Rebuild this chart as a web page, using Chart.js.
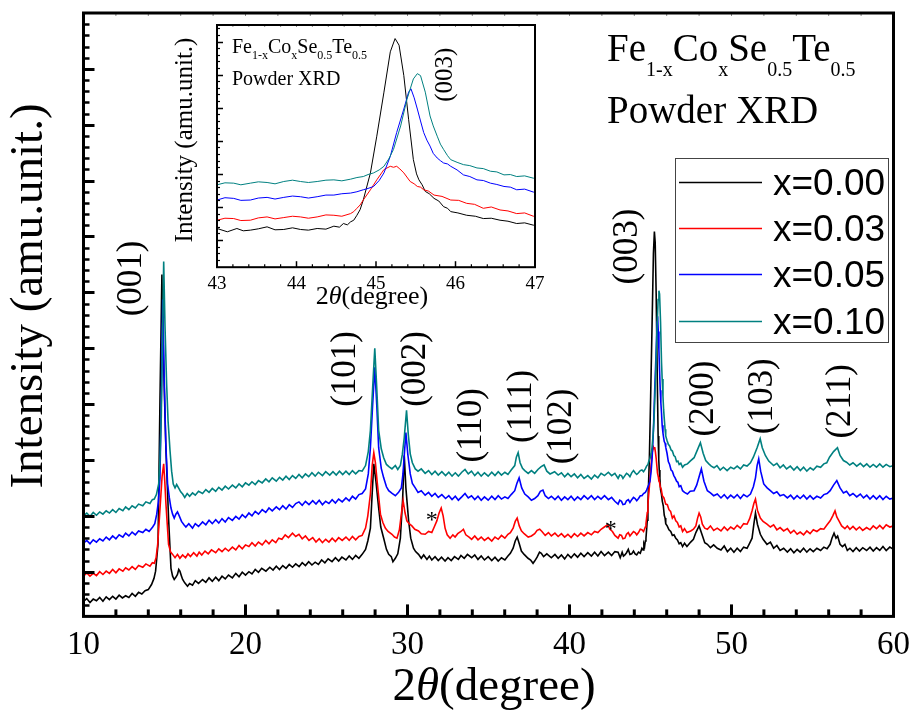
<!DOCTYPE html>
<html><head><meta charset="utf-8">
<script src="https://cdn.jsdelivr.net/npm/chart.js@4"></script>
<style>
html,body{margin:0;padding:0;background:#fff;}
#wrap{position:relative;width:919px;height:714px;overflow:hidden;}
#main{position:absolute;left:0;top:0;}
#inset{position:absolute;left:150px;top:15px;}
</style></head><body>
<div id="wrap"><canvas id="main" width="919" height="714"></canvas><canvas id="inset" width="400" height="310"></canvas></div>
<script>
// ---------- data (2theta in degree, intensity in arbitrary units) ----------
const seriesLabels = ['x=0.00', 'x=0.03', 'x=0.05', 'x=0.10'];
const seriesColors = ['#000000', '#ff0000', '#0000ff', '#008080'];

const xrd000 = [[10.0,47],[10.2,52],[10.4,45],[10.6,51],[10.8,48],[11.0,54],[11.2,47],[11.4,55],[11.6,50],[11.8,56],[12.0,51],[12.2,58],[12.4,53],[12.6,57],[12.8,54],[13.0,61],[13.2,56],[13.4,63],[13.6,60],[13.8,66],[14.0,68],[14.2,77],[14.35,88],[14.45,101],[14.6,149],[14.72,407],[14.84,632],[14.94,480],[15.02,390],[15.09,317],[15.25,196],[15.40,106],[15.5,92],[15.60,86],[15.7,90],[15.80,95],[15.88,104],[15.95,101],[16.05,92],[16.12,86],[16.25,80],[16.42,74],[16.55,79],[16.73,76],[16.9,84],[17.1,79],[17.35,86],[17.55,81],[17.75,89],[17.95,83],[18.16,90],[18.35,84],[18.55,92],[18.75,87],[18.95,94],[19.19,89],[19.4,97],[19.6,91],[19.8,99],[20.0,94],[20.21,100],[20.4,96],[20.6,104],[20.8,99],[21.0,106],[21.26,101],[21.5,108],[21.7,103],[21.9,110],[22.1,104],[22.3,111],[22.5,106],[22.7,113],[22.9,108],[23.1,114],[23.31,109],[23.5,116],[23.7,111],[23.9,118],[24.1,112],[24.3,117],[24.5,113],[24.7,121],[24.9,116],[25.1,123],[25.34,118],[25.55,125],[25.75,119],[25.95,126],[26.2,121],[26.4,128],[26.6,122],[26.8,129],[27.0,124],[27.2,131],[27.41,140],[27.55,155],[27.71,178],[27.82,240],[27.92,293],[28.05,262],[28.22,214],[28.35,180],[28.53,160],[28.7,140],[28.84,131],[29.0,127],[29.1,118],[29.25,124],[29.4,132],[29.56,160],[29.7,230],[29.80,308],[29.9,250],[30.07,191],[30.2,160],[30.37,142],[30.5,136],[30.68,131],[30.85,124],[31.0,130],[31.2,122],[31.35,128],[31.5,121],[31.7,127],[31.9,120],[32.1,126],[32.32,119],[32.5,125],[32.7,120],[32.9,127],[33.14,122],[33.3,129],[33.5,124],[33.7,131],[33.96,125],[34.15,130],[34.35,122],[34.55,128],[34.75,121],[34.98,127],[35.2,120],[35.4,126],[35.6,119],[35.8,125],[36.01,121],[36.2,128],[36.35,133],[36.52,142],[36.65,155],[36.77,162],[36.9,150],[37.03,137],[37.2,131],[37.44,124],[37.6,121],[37.75,115],[37.85,119],[38.0,126],[38.15,135],[38.26,133],[38.4,127],[38.6,132],[38.88,125],[39.1,131],[39.3,124],[39.5,130],[39.7,123],[39.9,131],[40.1,125],[40.3,132],[40.5,126],[40.7,133],[40.9,127],[41.13,134],[41.35,128],[41.55,135],[41.75,128],[41.95,136],[42.16,129],[42.4,135],[42.6,129],[42.8,136],[43.00,135],[43.13,125],[43.25,135],[43.33,128],[43.42,130],[43.52,134],[43.63,140],[43.73,131],[43.84,132],[43.95,137],[44.05,132],[44.15,130],[44.26,135],[44.37,133],[44.47,142],[44.54,139],[44.59,150],[44.64,146],[44.68,155],[44.72,160],[44.76,175],[44.80,192],[44.84,221],[44.93,303],[45.01,414],[45.10,547],[45.18,669],[45.24,709],[45.29,689],[45.35,597],[45.41,465],[45.47,343],[45.51,300],[45.54,282],[45.58,267],[45.62,247],[45.67,240],[45.73,226],[45.79,218],[45.85,201],[45.90,196],[45.94,186],[46.03,182],[46.14,175],[46.25,172],[46.35,165],[46.45,166],[46.56,160],[46.66,157],[46.77,150],[46.87,152],[46.98,145],[47.1,151],[47.25,145],[47.48,153],[47.65,158],[47.8,170],[48.0,182],[48.2,165],[48.35,152],[48.51,149],[48.7,143],[48.9,148],[49.12,142],[49.35,139],[49.55,146],[49.75,136],[49.95,142],[50.15,135],[50.35,142],[50.55,136],[50.75,144],[50.96,142],[51.1,150],[51.27,160],[51.38,185],[51.48,205],[51.6,185],[51.78,167],[51.95,158],[52.19,149],[52.4,153],[52.6,142],[52.8,147],[53.0,138],[53.22,142],[53.45,135],[53.65,141],[53.85,134],[54.05,140],[54.24,135],[54.45,142],[54.65,135],[54.85,141],[55.05,136],[55.27,142],[55.5,138],[55.7,144],[55.9,141],[56.09,149],[56.2,160],[56.33,169],[56.45,160],[56.55,164],[56.70,149],[56.85,145],[57.0,149],[57.15,138],[57.31,142],[57.5,136],[57.7,143],[57.9,137],[58.1,143],[58.34,138],[58.55,144],[58.75,137],[58.95,143],[59.15,138],[59.35,145],[59.55,138],[59.77,144],[60.0,140]];

const xrd003 = [[10.0,92],[10.2,98],[10.4,92],[10.6,97],[10.8,93],[11.0,100],[11.2,95],[11.4,101],[11.6,97],[11.8,104],[12.0,98],[12.2,105],[12.43,101],[12.6,107],[12.8,103],[13.0,109],[13.2,104],[13.4,111],[13.66,108],[13.85,114],[14.1,110],[14.25,116],[14.37,115],[14.48,125],[14.58,149],[14.74,221],[14.85,270],[14.95,293],[15.02,260],[15.09,221],[15.25,149],[15.38,135],[15.5,131],[15.65,125],[15.8,131],[15.95,124],[16.12,130],[16.3,125],[16.45,132],[16.6,127],[16.8,134],[17.0,128],[17.14,135],[17.3,130],[17.5,137],[17.7,132],[17.9,139],[18.16,134],[18.35,141],[18.55,136],[18.75,142],[18.95,137],[19.19,144],[19.4,139],[19.6,147],[19.8,141],[20.0,148],[20.21,145],[20.4,152],[20.6,146],[20.8,153],[21.03,148],[21.25,156],[21.45,150],[21.65,157],[21.87,152],[22.05,160],[22.25,158],[22.45,166],[22.65,161],[22.9,169],[23.1,163],[23.3,167],[23.5,159],[23.7,164],[23.92,156],[24.15,161],[24.35,153],[24.55,159],[24.75,152],[24.95,158],[25.15,153],[25.35,160],[25.55,154],[25.75,161],[25.97,156],[26.2,162],[26.4,156],[26.6,163],[26.8,157],[27.0,163],[27.2,165],[27.41,178],[27.55,200],[27.71,239],[27.82,290],[27.92,313],[28.02,295],[28.12,263],[28.33,203],[28.48,188],[28.63,178],[28.8,172],[29.04,167],[29.2,162],[29.35,160],[29.5,175],[29.62,203],[29.73,227],[29.85,205],[29.96,191],[30.1,186],[30.27,182],[30.45,176],[30.68,173],[30.85,168],[31.09,167],[31.3,172],[31.50,170],[31.65,180],[31.81,191],[31.95,205],[32.08,214],[32.2,200],[32.32,178],[32.45,166],[32.63,160],[32.8,166],[32.94,162],[33.1,168],[33.3,172],[33.45,176],[33.6,166],[33.8,162],[33.96,158],[34.15,164],[34.35,157],[34.55,162],[34.75,156],[34.98,161],[35.2,155],[35.4,162],[35.6,158],[35.8,165],[36.01,160],[36.2,167],[36.35,170],[36.52,178],[36.65,190],[36.77,196],[36.9,182],[37.03,173],[37.2,168],[37.45,162],[37.65,164],[37.85,168],[38.0,174],[38.16,176],[38.3,172],[38.5,165],[38.7,170],[38.88,164],[39.1,169],[39.3,163],[39.5,168],[39.7,162],[39.9,167],[40.1,161],[40.3,168],[40.5,163],[40.7,169],[40.9,164],[41.13,170],[41.35,166],[41.55,172],[41.75,170],[41.95,176],[42.15,180],[42.36,184],[42.5,176],[42.65,172],[42.8,165],[43.00,160],[43.1,166],[43.21,165],[43.3,159],[43.42,160],[43.52,167],[43.63,170],[43.73,164],[43.84,168],[43.95,172],[44.05,170],[44.15,166],[44.26,170],[44.37,176],[44.47,175],[44.57,172],[44.68,180],[44.72,186],[44.76,196],[44.80,206],[44.84,221],[44.93,252],[45.01,282],[45.10,313],[45.18,323],[45.22,320],[45.26,323],[45.30,315],[45.35,303],[45.43,277],[45.48,270],[45.52,262],[45.56,260],[45.60,252],[45.66,248],[45.73,236],[45.83,232],[45.94,221],[46.04,220],[46.14,211],[46.24,208],[46.35,196],[46.45,200],[46.56,191],[46.66,188],[46.77,180],[46.87,182],[46.98,172],[47.1,177],[47.25,170],[47.48,173],[47.65,176],[47.8,182],[47.9,195],[48.0,205],[48.1,198],[48.2,185],[48.35,178],[48.51,176],[48.7,182],[48.9,174],[49.12,178],[49.35,173],[49.55,180],[49.75,174],[49.95,180],[50.15,176],[50.35,183],[50.55,178],[50.75,186],[50.96,185],[51.12,195],[51.27,209],[51.38,222],[51.48,230],[51.6,210],[51.78,196],[51.95,190],[52.19,185],[52.4,180],[52.6,184],[52.8,175],[53.0,179],[53.22,173],[53.45,177],[53.65,169],[53.85,174],[54.05,167],[54.24,171],[54.45,166],[54.65,173],[54.85,168],[55.05,175],[55.27,172],[55.5,177],[55.7,176],[55.9,184],[56.09,191],[56.25,200],[56.39,209],[56.5,198],[56.65,190],[56.80,182],[57.0,177],[57.15,182],[57.31,176],[57.5,181],[57.7,175],[57.9,180],[58.1,174],[58.34,179],[58.55,175],[58.75,182],[58.95,177],[59.15,183],[59.35,177],[59.55,184],[59.77,180],[60.0,182]];

const xrd005 = [[10.0,151],[10.2,156],[10.4,150],[10.6,157],[10.8,153],[11.0,159],[11.2,155],[11.4,162],[11.6,157],[11.8,164],[12.0,159],[12.2,166],[12.43,162],[12.6,169],[12.8,164],[13.0,171],[13.2,166],[13.4,173],[13.66,170],[13.85,176],[14.05,172],[14.27,180],[14.4,186],[14.52,203],[14.62,225],[14.72,268],[14.81,420],[14.89,587],[14.98,450],[15.08,330],[15.19,257],[15.3,232],[15.40,214],[15.50,203],[15.60,196],[15.70,203],[15.80,207],[15.91,200],[16.05,190],[16.2,184],[16.32,180],[16.5,186],[16.73,178],[16.9,186],[17.1,181],[17.35,189],[17.55,184],[17.75,192],[17.95,186],[18.16,193],[18.35,187],[18.55,195],[18.75,189],[18.95,197],[19.19,192],[19.4,199],[19.6,194],[19.8,202],[20.0,197],[20.21,205],[20.4,200],[20.6,208],[20.8,203],[21.03,211],[21.25,206],[21.45,214],[21.65,209],[21.9,216],[22.1,211],[22.3,218],[22.5,212],[22.7,220],[22.9,215],[23.1,222],[23.3,225],[23.5,219],[23.7,226],[23.92,220],[24.15,227],[24.35,221],[24.55,228],[24.75,220],[24.95,226],[25.15,222],[25.35,229],[25.55,223],[25.75,230],[25.97,225],[26.2,232],[26.4,227],[26.6,235],[26.8,230],[27.0,238],[27.2,240],[27.41,248],[27.58,275],[27.71,322],[27.85,400],[27.98,466],[28.1,400],[28.22,322],[28.38,285],[28.53,268],[28.7,252],[28.84,245],[29.05,240],[29.25,236],[29.45,242],[29.62,250],[29.72,275],[29.78,300],[29.90,349],[30.02,310],[30.17,275],[30.3,258],[30.48,250],[30.65,242],[30.85,245],[31.09,237],[31.3,242],[31.5,235],[31.7,240],[31.9,233],[32.12,238],[32.35,231],[32.55,236],[32.75,229],[32.95,235],[33.14,228],[33.35,234],[33.55,240],[33.75,232],[33.95,236],[34.15,229],[34.35,235],[34.55,228],[34.75,234],[34.98,228],[35.2,235],[35.4,229],[35.6,236],[35.8,230],[36.01,234],[36.2,231],[36.4,238],[36.62,245],[36.75,258],[36.89,268],[37.05,250],[37.24,239],[37.45,234],[37.65,228],[37.85,231],[38.05,236],[38.2,244],[38.36,246],[38.5,236],[38.7,231],[38.88,235],[39.1,229],[39.3,235],[39.5,228],[39.7,234],[39.9,229],[40.1,235],[40.3,228],[40.5,234],[40.7,229],[40.9,236],[41.13,230],[41.35,236],[41.55,229],[41.75,235],[41.95,230],[42.16,236],[42.4,229],[42.6,233],[42.8,226],[43.00,221],[43.1,228],[43.21,226],[43.3,220],[43.42,221],[43.52,227],[43.63,229],[43.73,224],[43.84,229],[43.95,233],[44.05,231],[44.15,227],[44.26,231],[44.37,236],[44.47,236],[44.57,240],[44.68,242],[44.76,246],[44.84,252],[44.9,256],[44.97,262],[45.04,280],[45.10,303],[45.18,353],[45.26,425],[45.35,496],[45.41,547],[45.44,557],[45.48,530],[45.52,496],[45.56,460],[45.60,425],[45.64,402],[45.68,384],[45.72,362],[45.77,348],[45.81,340],[45.85,333],[45.90,330],[45.94,323],[46.02,312],[46.10,297],[46.18,292],[46.27,282],[46.35,280],[46.44,272],[46.52,268],[46.61,262],[46.69,260],[46.77,252],[46.87,254],[46.98,245],[47.1,242],[47.28,239],[47.45,244],[47.69,245],[47.85,255],[48.0,270],[48.14,284],[48.3,262],[48.51,245],[48.7,241],[48.9,236],[49.12,239],[49.35,232],[49.55,238],[49.75,231],[49.95,237],[50.15,232],[50.35,238],[50.55,231],[50.75,238],[50.96,234],[51.17,239],[51.35,252],[51.48,268],[51.58,290],[51.68,302],[51.8,280],[51.99,257],[52.2,250],[52.40,245],[52.6,240],[52.8,243],[53.0,236],[53.22,238],[53.45,232],[53.65,237],[53.85,230],[54.05,236],[54.24,231],[54.45,237],[54.65,230],[54.85,236],[55.05,230],[55.27,235],[55.5,232],[55.7,238],[55.9,240],[56.09,245],[56.3,255],[56.50,263],[56.7,250],[56.91,241],[57.1,244],[57.3,236],[57.5,240],[57.73,234],[57.95,239],[58.15,232],[58.35,237],[58.55,230],[58.75,236],[58.95,230],[59.15,236],[59.35,229],[59.55,235],[59.77,230],[60.0,232]];

const xrd010 = [[10.0,200],[10.2,205],[10.4,199],[10.6,206],[10.8,201],[11.0,207],[11.2,203],[11.4,209],[11.6,205],[11.8,211],[12.0,206],[12.2,213],[12.43,209],[12.6,216],[12.8,211],[13.0,218],[13.2,214],[13.4,221],[13.66,218],[13.85,225],[14.1,222],[14.25,229],[14.37,230],[14.5,238],[14.64,257],[14.72,300],[14.80,376],[14.88,520],[14.95,655],[15.03,540],[15.13,437],[15.22,370],[15.34,317],[15.44,280],[15.54,257],[15.65,250],[15.75,256],[15.91,248],[16.0,243],[16.12,239],[16.25,233],[16.4,240],[16.55,235],[16.73,241],[16.9,237],[17.1,244],[17.35,240],[17.55,247],[17.75,242],[17.95,249],[18.16,244],[18.35,251],[18.55,246],[18.75,253],[18.95,248],[19.19,255],[19.4,250],[19.6,257],[19.8,252],[20.0,259],[20.21,255],[20.4,261],[20.6,256],[20.8,263],[21.03,259],[21.25,266],[21.45,261],[21.65,268],[21.9,262],[22.1,269],[22.3,264],[22.5,271],[22.7,265],[22.9,272],[23.1,267],[23.3,274],[23.5,268],[23.7,275],[23.9,270],[24.1,277],[24.3,271],[24.5,278],[24.75,272],[24.95,279],[25.2,273],[25.4,279],[25.6,273],[25.8,280],[26.0,274],[26.2,280],[26.4,274],[26.6,281],[26.8,275],[27.0,281],[27.2,280],[27.41,290],[27.58,315],[27.71,353],[27.85,430],[27.98,500],[28.1,430],[28.22,353],[28.38,320],[28.53,304],[28.7,292],[28.85,288],[29.04,284],[29.25,290],[29.4,283],[29.56,290],[29.68,310],[29.80,340],[29.94,389],[30.05,345],[30.17,311],[30.3,295],[30.48,284],[30.65,280],[30.85,284],[31.09,276],[31.3,281],[31.5,274],[31.7,280],[31.9,273],[32.12,279],[32.35,272],[32.55,278],[32.75,271],[32.95,277],[33.14,271],[33.35,278],[33.55,283],[33.75,275],[33.95,280],[34.15,272],[34.35,278],[34.55,271],[34.75,277],[34.98,271],[35.2,278],[35.4,272],[35.6,279],[35.8,273],[36.01,278],[36.2,274],[36.4,282],[36.62,290],[36.72,305],[36.83,313],[36.95,295],[37.1,285],[37.24,281],[37.45,276],[37.65,281],[37.85,276],[38.05,283],[38.25,288],[38.43,291],[38.6,280],[38.8,275],[39.08,279],[39.3,273],[39.5,277],[39.7,270],[39.9,276],[40.1,270],[40.3,275],[40.5,268],[40.7,274],[40.9,267],[41.13,272],[41.35,266],[41.55,273],[41.75,268],[41.95,276],[42.16,272],[42.4,278],[42.6,272],[42.8,276],[43.00,267],[43.1,273],[43.21,272],[43.3,267],[43.42,272],[43.52,276],[43.63,274],[43.73,270],[43.84,277],[43.95,281],[44.05,277],[44.15,274],[44.26,277],[44.37,281],[44.47,282],[44.57,279],[44.68,284],[44.76,289],[44.84,292],[44.9,298],[44.97,303],[45.04,312],[45.10,323],[45.16,345],[45.22,374],[45.31,445],[45.39,526],[45.47,587],[45.52,603],[45.56,597],[45.62,547],[45.68,475],[45.72,445],[45.77,414],[45.81,390],[45.85,374],[45.90,355],[45.94,343],[46.02,335],[46.10,328],[46.18,325],[46.27,318],[46.35,316],[46.44,308],[46.52,306],[46.61,297],[46.69,298],[46.77,292],[46.87,294],[46.98,287],[47.1,291],[47.28,293],[47.45,298],[47.69,304],[47.85,315],[48.08,331],[48.25,312],[48.41,299],[48.6,293],[48.75,289],[48.92,286],[49.1,290],[49.3,282],[49.5,287],[49.73,281],[49.95,287],[50.15,284],[50.35,289],[50.55,284],[50.75,291],[50.96,289],[51.17,295],[51.35,305],[51.58,322],[51.77,338],[51.9,322],[52.09,308],[52.3,298],[52.60,290],[52.8,294],[53.0,286],[53.2,291],[53.4,284],[53.63,289],[53.85,282],[54.05,288],[54.25,281],[54.45,287],[54.65,280],[54.86,286],[55.05,282],[55.27,289],[55.5,287],[55.7,293],[55.88,295],[56.05,305],[56.3,315],[56.54,322],[56.7,308],[56.91,299],[57.1,296],[57.3,291],[57.5,295],[57.73,289],[57.95,294],[58.15,288],[58.35,293],[58.55,287],[58.75,292],[58.95,287],[59.15,293],[59.35,287],[59.55,292],[59.77,288],[60.0,290]];

const xTicksMain = [10, 20, 30, 40, 50, 60];
const xTicksInset = [43, 44, 45, 46, 47];

// peak indexing labels with their anchor (2theta, intensity)
const peakNames = ['(001)', '(101)', '(002)', '(110)', '(111)', '(102)', '(003)', '(200)', '(103)', '(211)'];
const peakAnchorX = [12.98, 26.20, 30.50, 34.0, 37.07, 39.53, 43.59, 48.32, 51.95, 56.74];
const peakAnchorY = [625, 463, 463, 362, 396, 360, 682, 410, 414, 405];
// impurity markers
const starX = [31.49, 42.54];
const starY = [203, 187];

// ---------- helpers ----------
const SERIF = "'Liberation Serif','Times New Roman',serif";
const SANS = "'Liberation Sans',Arial,sans-serif";
const allSeries = [xrd000, xrd003, xrd005, xrd010];

function makeDatasets(lw) {
  return allSeries.map((s, i) => ({
    label: seriesLabels[i],
    data: s.map(p => ({ x: p[0], y: p[1] })),
    borderColor: seriesColors[i],
    backgroundColor: seriesColors[i],
    borderWidth: lw,
    pointRadius: 0,
    tension: 0,
    fill: false,
    order: 4 - i
  }));
}

function rich(ctx, parts, x, y) {
  let cx = x;
  for (const p of parts) {
    ctx.font = p.f;
    ctx.fillText(p.t, cx, y + (p.dy || 0));
    cx += ctx.measureText(p.t).width;
  }
}
function richWidth(ctx, parts) {
  let w = 0;
  for (const p of parts) { ctx.font = p.f; w += ctx.measureText(p.t).width; }
  return w;
}
function rotText(ctx, txt, font, cx, cy) {
  ctx.save();
  ctx.translate(cx, cy);
  ctx.rotate(-Math.PI / 2);
  ctx.font = font;
  ctx.textAlign = 'center';
  ctx.textBaseline = 'middle';
  ctx.fillText(txt, 0, 0);
  ctx.restore();
}
function tickLine(ctx, x1, y1, x2, y2, lw) {
  ctx.lineWidth = lw;
  ctx.beginPath(); ctx.moveTo(x1, y1); ctx.lineTo(x2, y2); ctx.stroke();
}

// ---------- main chart ----------
const mainDecor = {
  id: 'mainDecor',
  afterDraw(chart) {
    const ctx = chart.ctx, a = chart.chartArea, xs = chart.scales.x, ys = chart.scales.y;
    ctx.save();
    ctx.strokeStyle = '#000'; ctx.fillStyle = '#000'; ctx.lineCap = 'butt';
    for (let v = 40; v < 1100; v += 20) {
      const py = Math.round(ys.getPixelForValue(v)) + 0.5;
      if (py > a.bottom - 2 || py < a.top + 2) continue;
      const major = v % 100 === 0;
      tickLine(ctx, a.left, py, a.left + (major ? 11 : 6), py, major ? 3 : 2.5);
    }
    for (let v = 12; v < 60; v += 2) {
      const px = xs.getPixelForValue(v);
      const major = v % 10 === 0;
      tickLine(ctx, px, a.bottom, px, a.bottom - (major ? 12 : 7), 3);
    }
    ctx.strokeStyle = '#888';
    for (let v = 12; v < 60; v += 2) {
      const px = xs.getPixelForValue(v);
      tickLine(ctx, px, a.top, px, a.top + 3, 1);
    }
    ctx.strokeStyle = '#000';
    ctx.lineWidth = 3;
    ctx.strokeRect(a.left, a.top, a.right - a.left, a.bottom - a.top);

    ctx.fillStyle = '#000';
    for (let i = 0; i < peakNames.length; i++) {
      rotText(ctx, peakNames[i], '35px ' + SERIF, xs.getPixelForValue(peakAnchorX[i]), ys.getPixelForValue(peakAnchorY[i]));
    }
    ctx.font = '24px ' + SERIF; ctx.textAlign = 'center'; ctx.textBaseline = 'alphabetic';
    for (let i = 0; i < starX.length; i++) {
      ctx.fillText('*', xs.getPixelForValue(starX[i]), ys.getPixelForValue(starY[i]) + 13);
    }

    ctx.textAlign = 'left'; ctx.textBaseline = 'alphabetic';
    const big = '39px ' + SERIF, sub = '20px ' + SERIF;
    rich(ctx, [{t:'Fe', f:big}, {t:'1-x', f:sub, dy:15}, {t:'Co', f:big}, {t:'x', f:sub, dy:15},
               {t:'Se', f:big}, {t:'0.5', f:sub, dy:15}, {t:'Te', f:big}, {t:'0.5', f:sub, dy:15}], 607, 61);
    ctx.font = big; ctx.fillText('Powder XRD', 607, 123);

    ctx.lineWidth = 1; ctx.strokeStyle = '#444';
    ctx.strokeRect(675.5, 158.5, 213, 184);
    const rowsY = [182, 228, 274, 321];
    for (let i = 0; i < 4; i++) {
      ctx.strokeStyle = seriesColors[i]; ctx.lineWidth = 1.3;
      ctx.beginPath(); ctx.moveTo(679, rowsY[i] + 0.5); ctx.lineTo(762, rowsY[i] + 0.5); ctx.stroke();
      ctx.font = '37px ' + SANS; ctx.fillStyle = '#000';
      ctx.fillText(seriesLabels[i], 773, rowsY[i] + 13);
    }

    const tf = '47px ' + SERIF, tfi = 'italic 47px ' + SERIF;
    const tparts = [{t:'2', f:tf}, {t:'\u03B8', f:tfi}, {t:'(degree)', f:tf}];
    const tw = richWidth(ctx, tparts);
    rich(ctx, tparts, 494 - tw / 2, 700);
    ctx.save();
    ctx.translate(42, 296); ctx.rotate(-Math.PI / 2);
    ctx.font = tf; ctx.textAlign = 'center'; ctx.textBaseline = 'alphabetic';
    ctx.fillText('Intensity (amu.unit.)', 0, 0);
    ctx.restore();
    ctx.restore();
  }
};

new Chart(document.getElementById('main'), {
  type: 'line',
  data: { datasets: makeDatasets(1.6) },
  options: {
    responsive: false, animation: false, devicePixelRatio: 1,
    layout: { padding: { left: 83.5, right: 22, top: 13, bottom: 40 } },
    plugins: { legend: { display: false }, tooltip: { enabled: false } },
    scales: {
      x: {
        type: 'linear', min: 10, max: 60,
        afterBuildTicks: s => { s.ticks = xTicksMain.map(v => ({ value: v })); },
        grid: { display: false, drawTicks: false }, border: { display: false },
        ticks: { font: { family: SERIF, size: 33 }, color: '#000', padding: 9, maxRotation: 0, autoSkip: false }
      },
      y: { type: 'linear', min: 20, max: 1100, display: false }
    }
  },
  plugins: [mainDecor]
});

// ---------- inset chart ----------
const insetLabelX = 45.87, insetLabelY = 600;
const insetDecor = {
  id: 'insetDecor',
  beforeDraw(chart) {
    const ctx = chart.ctx, a = chart.chartArea;
    ctx.save(); ctx.fillStyle = '#fff';
    ctx.fillRect(a.left, a.top, a.right - a.left, a.bottom - a.top);
    ctx.restore();
  },
  afterDraw(chart) {
    const ctx = chart.ctx, a = chart.chartArea, xs = chart.scales.x, ys = chart.scales.y;
    ctx.save();
    ctx.strokeStyle = '#000'; ctx.fillStyle = '#000';
    for (let v = 20; v < 750; v += 20) {
      const py = Math.round(ys.getPixelForValue(v)) + 0.5;
      if (py > a.bottom - 1 || py < a.top + 1) continue;
      const major = v % 100 === 0;
      tickLine(ctx, a.left, py, a.left + (major ? 6 : 3), py, major ? 1.5 : 1.2);
    }
    for (let k = 1; k < 20; k++) {
      const v = 43 + k * 0.2;
      const px = xs.getPixelForValue(v);
      const major = k % 5 === 0;
      tickLine(ctx, px, a.bottom, px, a.bottom - (major ? 6 : 3), major ? 1.5 : 1.2);
      ctx.strokeStyle = '#888';
      tickLine(ctx, px, a.top, px, a.top + 2, 1);
      ctx.strokeStyle = '#000';
    }
    ctx.lineWidth = 2;
    ctx.strokeRect(a.left, a.top, a.right - a.left, a.bottom - a.top);

    rotText(ctx, '(003)', '25px ' + SERIF, xs.getPixelForValue(insetLabelX), ys.getPixelForValue(insetLabelY));

    ctx.textAlign = 'left'; ctx.textBaseline = 'alphabetic';
    const big = '20px ' + SERIF, sub = '12px ' + SERIF;
    rich(ctx, [{t:'Fe', f:big}, {t:'1-x', f:sub, dy:6}, {t:'Co', f:big}, {t:'x', f:sub, dy:6},
               {t:'Se', f:big}, {t:'0.5', f:sub, dy:6}, {t:'Te', f:big}, {t:'0.5', f:sub, dy:6}], 82, 38);
    ctx.font = big; ctx.fillText('Powder XRD', 82, 70);

    const tf = '26px ' + SERIF, tfi = 'italic 26px ' + SERIF;
    const tparts = [{t:'2', f:tf}, {t:'\u03B8', f:tfi}, {t:'(degree)', f:tf}];
    const tw = richWidth(ctx, tparts);
    rich(ctx, tparts, 222 - tw / 2, 289);
    ctx.save();
    ctx.translate(42, 125); ctx.rotate(-Math.PI / 2);
    ctx.font = '25px ' + SERIF; ctx.textAlign = 'center'; ctx.textBaseline = 'alphabetic';
    ctx.fillText('Intensity (amu.unit.)', 0, 0);
    ctx.restore();
    ctx.restore();
  }
};

new Chart(document.getElementById('inset'), {
  type: 'line',
  data: { datasets: makeDatasets(1) },
  options: {
    responsive: false, animation: false, devicePixelRatio: 1,
    layout: { padding: { left: 67, right: 15, top: 10, bottom: 25 } },
    plugins: { legend: { display: false }, tooltip: { enabled: false } },
    scales: {
      x: {
        type: 'linear', min: 43, max: 47,
        afterBuildTicks: s => { s.ticks = xTicksInset.map(v => ({ value: v })); },
        grid: { display: false, drawTicks: false }, border: { display: false },
        ticks: { font: { family: SERIF, size: 19 }, color: '#000', padding: 5, maxRotation: 0, autoSkip: false }
      },
      y: { type: 'linear', min: 18, max: 750, display: false }
    }
  },
  plugins: [insetDecor]
});
</script>
</body></html>
